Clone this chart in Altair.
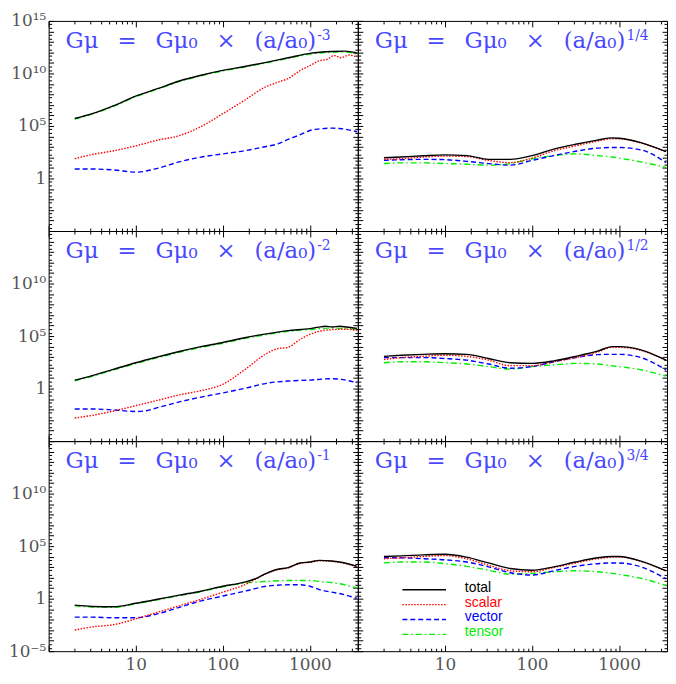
import altair as alt
import pandas as pd

# ---------------- data (log10 values) ----------------
SERIES = ["total", "scalar", "vector", "tensor"]

# panel A: (a/a0)^-3  (top left)
A_X_TOT = [0.3, 0.5, 0.75, 1, 1.25, 1.5, 1.75, 2, 2.25, 2.5, 2.75, 3, 3.25, 3.4, 3.54]
A_TOT = [5.71, 6.17, 6.93, 7.84, 8.55, 9.28, 9.83, 10.29, 10.66, 11.06, 11.49, 11.91, 12.09, 12.12, 11.95]
A_TEN = [5.66, 6.12, 6.88, 7.79, 8.50, 9.23, 9.78, 10.24, 10.61, 11.01, 11.43, 11.84, 12.01, 12.03, 11.86]
A_X_SCA = [0.3, 0.5, 0.75, 1, 1.25, 1.5, 1.75, 2, 2.25, 2.5, 2.62, 2.75, 2.89, 3, 3.11, 3.2, 3.28, 3.36, 3.45, 3.54]
A_SCA = [1.88, 2.28, 2.64, 3.1, 3.65, 4.08, 4.94, 6.17, 7.45, 8.76, 9.13, 9.52, 10.29, 10.75, 11.21, 11.35, 11.7, 11.5, 11.75, 11.55]
A_X_VEC = [0.3, 0.5, 0.75, 1, 1.25, 1.5, 1.75, 2, 2.25, 2.5, 2.62, 2.75, 2.89, 3, 3.11, 3.25, 3.34, 3.54]
A_VEC = [0.9, 0.9, 0.81, 0.6, 0.96, 1.58, 2.04, 2.34, 2.64, 3.05, 3.26, 3.72, 4.17, 4.57, 4.72, 4.79, 4.76, 4.45]

# panel C: (a/a0)^-2  (middle left)
C_X_TOT = [0.3, 0.5, 0.75, 1, 1.25, 1.5, 1.75, 2, 2.25, 2.5, 2.75, 3, 3.1, 3.18, 3.26, 3.34, 3.42, 3.54]
C_TOT = [0.81, 1.24, 1.85, 2.46, 3.01, 3.53, 3.99, 4.39, 4.84, 5.21, 5.52, 5.71, 5.85, 5.93, 5.86, 5.93, 5.86, 5.73]
C_X_TEN = [0.3, 0.5, 0.75, 1, 1.25, 1.5, 1.75, 2, 2.25, 2.5, 2.75, 3, 3.25, 3.54]
C_TEN = [0.74, 1.17, 1.78, 2.39, 2.94, 3.46, 3.92, 4.32, 4.77, 5.14, 5.44, 5.62, 5.76, 5.62]
C_X_SCA = [0.3, 0.5, 0.75, 1, 1.25, 1.5, 1.75, 2, 2.25, 2.5, 2.62, 2.75, 2.89, 3, 3.11, 3.25, 3.4, 3.54]
C_SCA = [-2.8, -2.55, -2.13, -1.63, -1.12, -0.6, -0.2, 0.41, 1.79, 3.32, 3.78, 3.93, 4.7, 5.16, 5.46, 5.61, 5.65, 5.55]
C_X_VEC = [0.3, 0.5, 0.75, 1, 1.1, 1.25, 1.5, 1.75, 2, 2.25, 2.5, 2.75, 3, 3.25, 3.54]
C_VEC = [-1.94, -1.94, -2.04, -2.18, -2.13, -1.82, -1.27, -0.81, -0.41, 0.02, 0.5, 0.72, 0.81, 0.94, 0.57]

# panel E: (a/a0)^-1  (bottom left)
E_X_TOT = [0.3, 0.5, 0.75, 1, 1.25, 1.5, 1.75, 2, 2.25, 2.36, 2.5, 2.62, 2.75, 2.89, 3, 3.11, 3.25, 3.34, 3.54]
E_TOT = [-0.62, -0.74, -0.77, -0.44, -0.06, 0.34, 0.71, 1.18, 1.57, 1.85, 2.41, 2.78, 2.96, 3.4, 3.49, 3.64, 3.58, 3.49, 3.08]
E_SCA = [-2.99, -2.69, -2.47, -1.92, -1.3, -0.68, -0.06, 0.62, 1.32, 1.79, 2.38, 2.75, 2.93, 3.37, 3.46, 3.61, 3.55, 3.46, 3.05]
E_X_VEC = [0.3, 0.5, 0.75, 1, 1.25, 1.5, 1.75, 2, 2.25, 2.5, 2.75, 2.89, 3, 3.11, 3.25, 3.34, 3.54]
E_VEC = [-1.76, -1.76, -1.82, -1.82, -1.45, -0.83, -0.21, 0.25, 0.71, 1.18, 1.32, 1.32, 1.18, 0.86, 0.62, 0.49, 0.03]
E_X_TEN = [0.3, 0.5, 0.75, 1, 1.25, 1.5, 1.75, 2, 2.25, 2.5, 2.75, 3, 3.11, 3.34, 3.54]
E_TEN = [-0.67, -0.79, -0.82, -0.49, -0.11, 0.29, 0.66, 1.13, 1.48, 1.64, 1.73, 1.73, 1.64, 1.42, 1.02]

# right column panels share one x grid
X_R = [0.3, 0.5, 0.75, 1, 1.25, 1.5, 1.75, 2, 2.25, 2.5, 2.75, 2.92, 3, 3.25, 3.54]
# panel B: (a/a0)^(1/4)
B_TOT = [1.97, 2.04, 2.16, 2.25, 2.18, 1.82, 1.82, 2.18, 2.8, 3.26, 3.65, 3.87, 3.83, 3.41, 2.55]
B_SCA = [1.82, 1.88, 2.04, 2.13, 2.09, 1.72, 1.51, 1.94, 2.64, 3.1, 3.56, 3.78, 3.78, 3.38, 2.52]
B_VEC = [1.72, 1.79, 1.82, 1.79, 1.63, 1.42, 1.27, 1.72, 2.18, 2.59, 2.89, 2.95, 2.95, 2.73, 1.5]
B_TEN = [1.42, 1.49, 1.49, 1.42, 1.36, 1.27, 1.42, 1.88, 2.18, 2.34, 2.18, 2.04, 1.94, 1.58, 1.05]
# panel D: (a/a0)^(1/2)
D_TOT = [3.07, 3.17, 3.26, 3.32, 3.26, 2.86, 2.46, 2.4, 2.64, 3.07, 3.56, 3.99, 3.99, 3.69, 2.7]
D_SCA = [2.77, 2.95, 3.07, 3.17, 3.07, 2.71, 2.18, 2.18, 2.55, 2.95, 3.47, 3.93, 3.93, 3.65, 2.67]
D_VEC = [2.95, 2.95, 2.95, 2.86, 2.71, 2.34, 1.94, 2.09, 2.55, 2.95, 3.23, 3.26, 3.26, 2.95, 1.78]
D_TEN = [2.46, 2.55, 2.55, 2.46, 2.34, 2.09, 1.85, 2.09, 2.25, 2.4, 2.34, 2.16, 2.09, 1.79, 1.18]
# panel F: (a/a0)^(3/4)
F_TOT = [4.01, 4.07, 4.17, 4.23, 3.95, 3.4, 2.87, 2.71, 3.03, 3.49, 3.89, 4.01, 4.01, 3.58, 2.65]
F_SCA = [3.8, 3.89, 4.01, 4.1, 3.8, 3.18, 2.66, 2.56, 2.96, 3.4, 3.8, 3.95, 3.97, 3.55, 2.62]
F_VEC = [3.89, 3.89, 3.8, 3.7, 3.49, 3.03, 2.47, 2.25, 2.66, 3.08, 3.33, 3.4, 3.4, 3.03, 1.88]
F_TEN = [3.4, 3.49, 3.49, 3.33, 3.08, 2.71, 2.34, 2.41, 2.56, 2.66, 2.56, 2.41, 2.31, 1.94, 1.25]

GAP = "\u2002\u2004"
TITLE_BASE = "Gμ" + GAP + "=" + GAP + "Gμ₀" + GAP + "×" + GAP + "(a/a₀)"
EXPONENTS = ["-3", "1/4", "-2", "1/2", "-1", "3/4"]
X_LABELS = [10, 100, 1000]

# ---------------- styles ----------------
COLORS = {"total": "#000000", "scalar": "#ff0000", "vector": "#0000ff", "tensor": "#00ee00"}
DASHES = {"total": [1, 0], "scalar": [1.5, 1.5], "vector": [5, 3], "tensor": [6, 3, 1.5, 3]}
TITLE_COLOR = "#4848ff"
LABEL_COLOR = "#555555"
W, H = 312, 212
XDOM = [1, 3550]
YDOM = [1e-5, 1e15]

Y_MAJOR = [10.0 ** k for k in range(-5, 16)]
Y_MINOR = [m * 10.0 ** k for k in range(-5, 15) for m in (2, 5)]
X_MAJOR = [1, 10, 100, 1000]
X_MINOR = [m * 10 ** k for k in range(0, 4) for m in range(2, 10) if m * 10 ** k <= 3550]

YEXPR = ("datum.value > 1e12 ? '10¹⁵' : datum.value > 1e7 ? '10¹⁰' : "
         "datum.value > 1e2 ? '10⁵' : datum.value > 1e-2 ? '1' : '10⁻⁵'")


def sx():
    return alt.Scale(type="log", domain=XDOM, nice=False)


def sy():
    return alt.Scale(type="log", domain=YDOM, nice=False)


def line_layer(lx, ly, name):
    df = pd.DataFrame({"x": [10.0 ** v for v in lx], "y": [10.0 ** v for v in ly],
                       "i": list(range(len(lx)))})
    kw = dict(color=COLORS[name], strokeWidth=1.4, interpolate="monotone", clip=True)
    if name != "total":
        kw["strokeDash"] = DASHES[name]
    return alt.Chart(df).mark_line(**kw).encode(
        x=alt.X("x:Q", scale=sx(), axis=None),
        y=alt.Y("y:Q", scale=sy(), axis=None),
        order="i:Q",
    )


FRAME_DF = pd.DataFrame({"x": [10.0], "y": [1.0]})


def axis_layer(xaxis, yaxis):
    return alt.Chart(FRAME_DF).mark_point(opacity=0).encode(
        x=alt.X("x:Q", scale=sx(), axis=xaxis, title=None),
        y=alt.Y("y:Q", scale=sy(), axis=yaxis, title=None),
    )


def tick_axis(orient, values, size):
    return alt.Axis(orient=orient, values=values, tickSize=size, offset=-size,
                    labels=False, domain=False, grid=False, ticks=True,
                    tickColor="black", tickWidth=1)


def panel(lines, exp, ylabels=None, xlabels=False, legend=False):
    layers = [
        axis_layer(tick_axis("bottom", X_MAJOR, 6), tick_axis("left", Y_MAJOR, 5)),
        axis_layer(tick_axis("bottom", X_MINOR, 3), tick_axis("left", Y_MINOR, 3)),
        axis_layer(tick_axis("top", X_MAJOR, 6), tick_axis("right", Y_MAJOR, 5)),
        axis_layer(tick_axis("top", X_MINOR, 3), tick_axis("right", Y_MINOR, 3)),
    ]
    if ylabels is not None or xlabels:
        xa = None
        ya = None
        if xlabels:
            xa = alt.Axis(orient="bottom", values=X_LABELS, format="d", ticks=False,
                          domain=False, grid=False, labelFont="DejaVu Serif",
                          labelFontSize=17, labelColor=LABEL_COLOR, labelPadding=5,
                          labelOverlap=False, labelFlush=False)
        if ylabels is not None:
            ya = alt.Axis(orient="left", values=ylabels, ticks=False, domain=False,
                          grid=False, labelExpr=YEXPR, labelFont="DejaVu Serif",
                          labelFontSize=17, labelColor=LABEL_COLOR, labelPadding=3,
                          labelOverlap=False)
        layers.append(axis_layer(xa, ya))
    layers += lines
    tx, ty = 270, 27
    layers.append(
        alt.Chart(pd.DataFrame({"t": [TITLE_BASE]})).mark_text(
            align="right", baseline="alphabetic", font="DejaVu Serif", fontSize=23,
            color=TITLE_COLOR).encode(x=alt.value(tx), y=alt.value(ty), text="t:N"))
    layers.append(
        alt.Chart(pd.DataFrame({"t": [exp]})).mark_text(
            align="left", baseline="alphabetic", font="DejaVu Serif", fontSize=14,
            color=TITLE_COLOR).encode(x=alt.value(tx + 1), y=alt.value(ty - 8), text="t:N"))
    if legend:
        leg = pd.DataFrame({"series": SERIES, "k": list(range(len(SERIES)))})
        cscale = alt.Scale(domain=SERIES, range=[COLORS[s] for s in SERIES])
        dscale = alt.Scale(domain=SERIES, range=[DASHES[s] for s in SERIES])
        yk = alt.Y("k:Q", scale=alt.Scale(domain=[0, 3], range=[150, 195]), axis=None)
        layers.append(alt.Chart(leg).mark_rule(strokeWidth=1.4).encode(
            x=alt.value(45), x2=alt.value(89), y=yk,
            color=alt.Color("series:N", scale=cscale, legend=None),
            strokeDash=alt.StrokeDash("series:N", scale=dscale, legend=None)))
        layers.append(alt.Chart(leg).mark_text(
            align="left", baseline="middle", dy=-2, font="Liberation Sans",
            fontSize=14).encode(
            x=alt.value(108), y=yk, text="series:N",
            color=alt.Color("series:N", scale=cscale, legend=None)))
    return (alt.layer(*layers)
            .resolve_scale(x="independent", y="independent")
            .resolve_axis(x="independent", y="independent")
            .properties(width=W, height=H))


pA = panel([line_layer(A_X_TOT, A_TEN, "tensor"), line_layer(A_X_VEC, A_VEC, "vector"),
            line_layer(A_X_SCA, A_SCA, "scalar"), line_layer(A_X_TOT, A_TOT, "total")],
           EXPONENTS[0], ylabels=[1e15, 1e10, 1e5, 1])
pB = panel([line_layer(X_R, B_TEN, "tensor"), line_layer(X_R, B_VEC, "vector"),
            line_layer(X_R, B_SCA, "scalar"), line_layer(X_R, B_TOT, "total")],
           EXPONENTS[1])
pC = panel([line_layer(C_X_TEN, C_TEN, "tensor"), line_layer(C_X_VEC, C_VEC, "vector"),
            line_layer(C_X_SCA, C_SCA, "scalar"), line_layer(C_X_TOT, C_TOT, "total")],
           EXPONENTS[2], ylabels=[1e10, 1e5, 1])
pD = panel([line_layer(X_R, D_TEN, "tensor"), line_layer(X_R, D_VEC, "vector"),
            line_layer(X_R, D_SCA, "scalar"), line_layer(X_R, D_TOT, "total")],
           EXPONENTS[3])
pE = panel([line_layer(E_X_TEN, E_TEN, "tensor"), line_layer(E_X_VEC, E_VEC, "vector"),
            line_layer(E_X_TOT, E_SCA, "scalar"), line_layer(E_X_TOT, E_TOT, "total")],
           EXPONENTS[4], ylabels=[1e10, 1e5, 1, 1e-5], xlabels=True)
pF = panel([line_layer(X_R, F_TEN, "tensor"), line_layer(X_R, F_VEC, "vector"),
            line_layer(X_R, F_SCA, "scalar"), line_layer(X_R, F_TOT, "total")],
           EXPONENTS[5], xlabels=True, legend=True)

chart = (alt.concat(pA, pB, pC, pD, pE, pF, columns=2, spacing=0, bounds="flush")
         .properties(padding={"left": 0, "top": 0, "right": 0, "bottom": 0},
                     background="white")
         .configure_view(stroke="black", strokeWidth=1))

chart.save("out.html", embed_options={"renderer": "svg", "actions": False})
